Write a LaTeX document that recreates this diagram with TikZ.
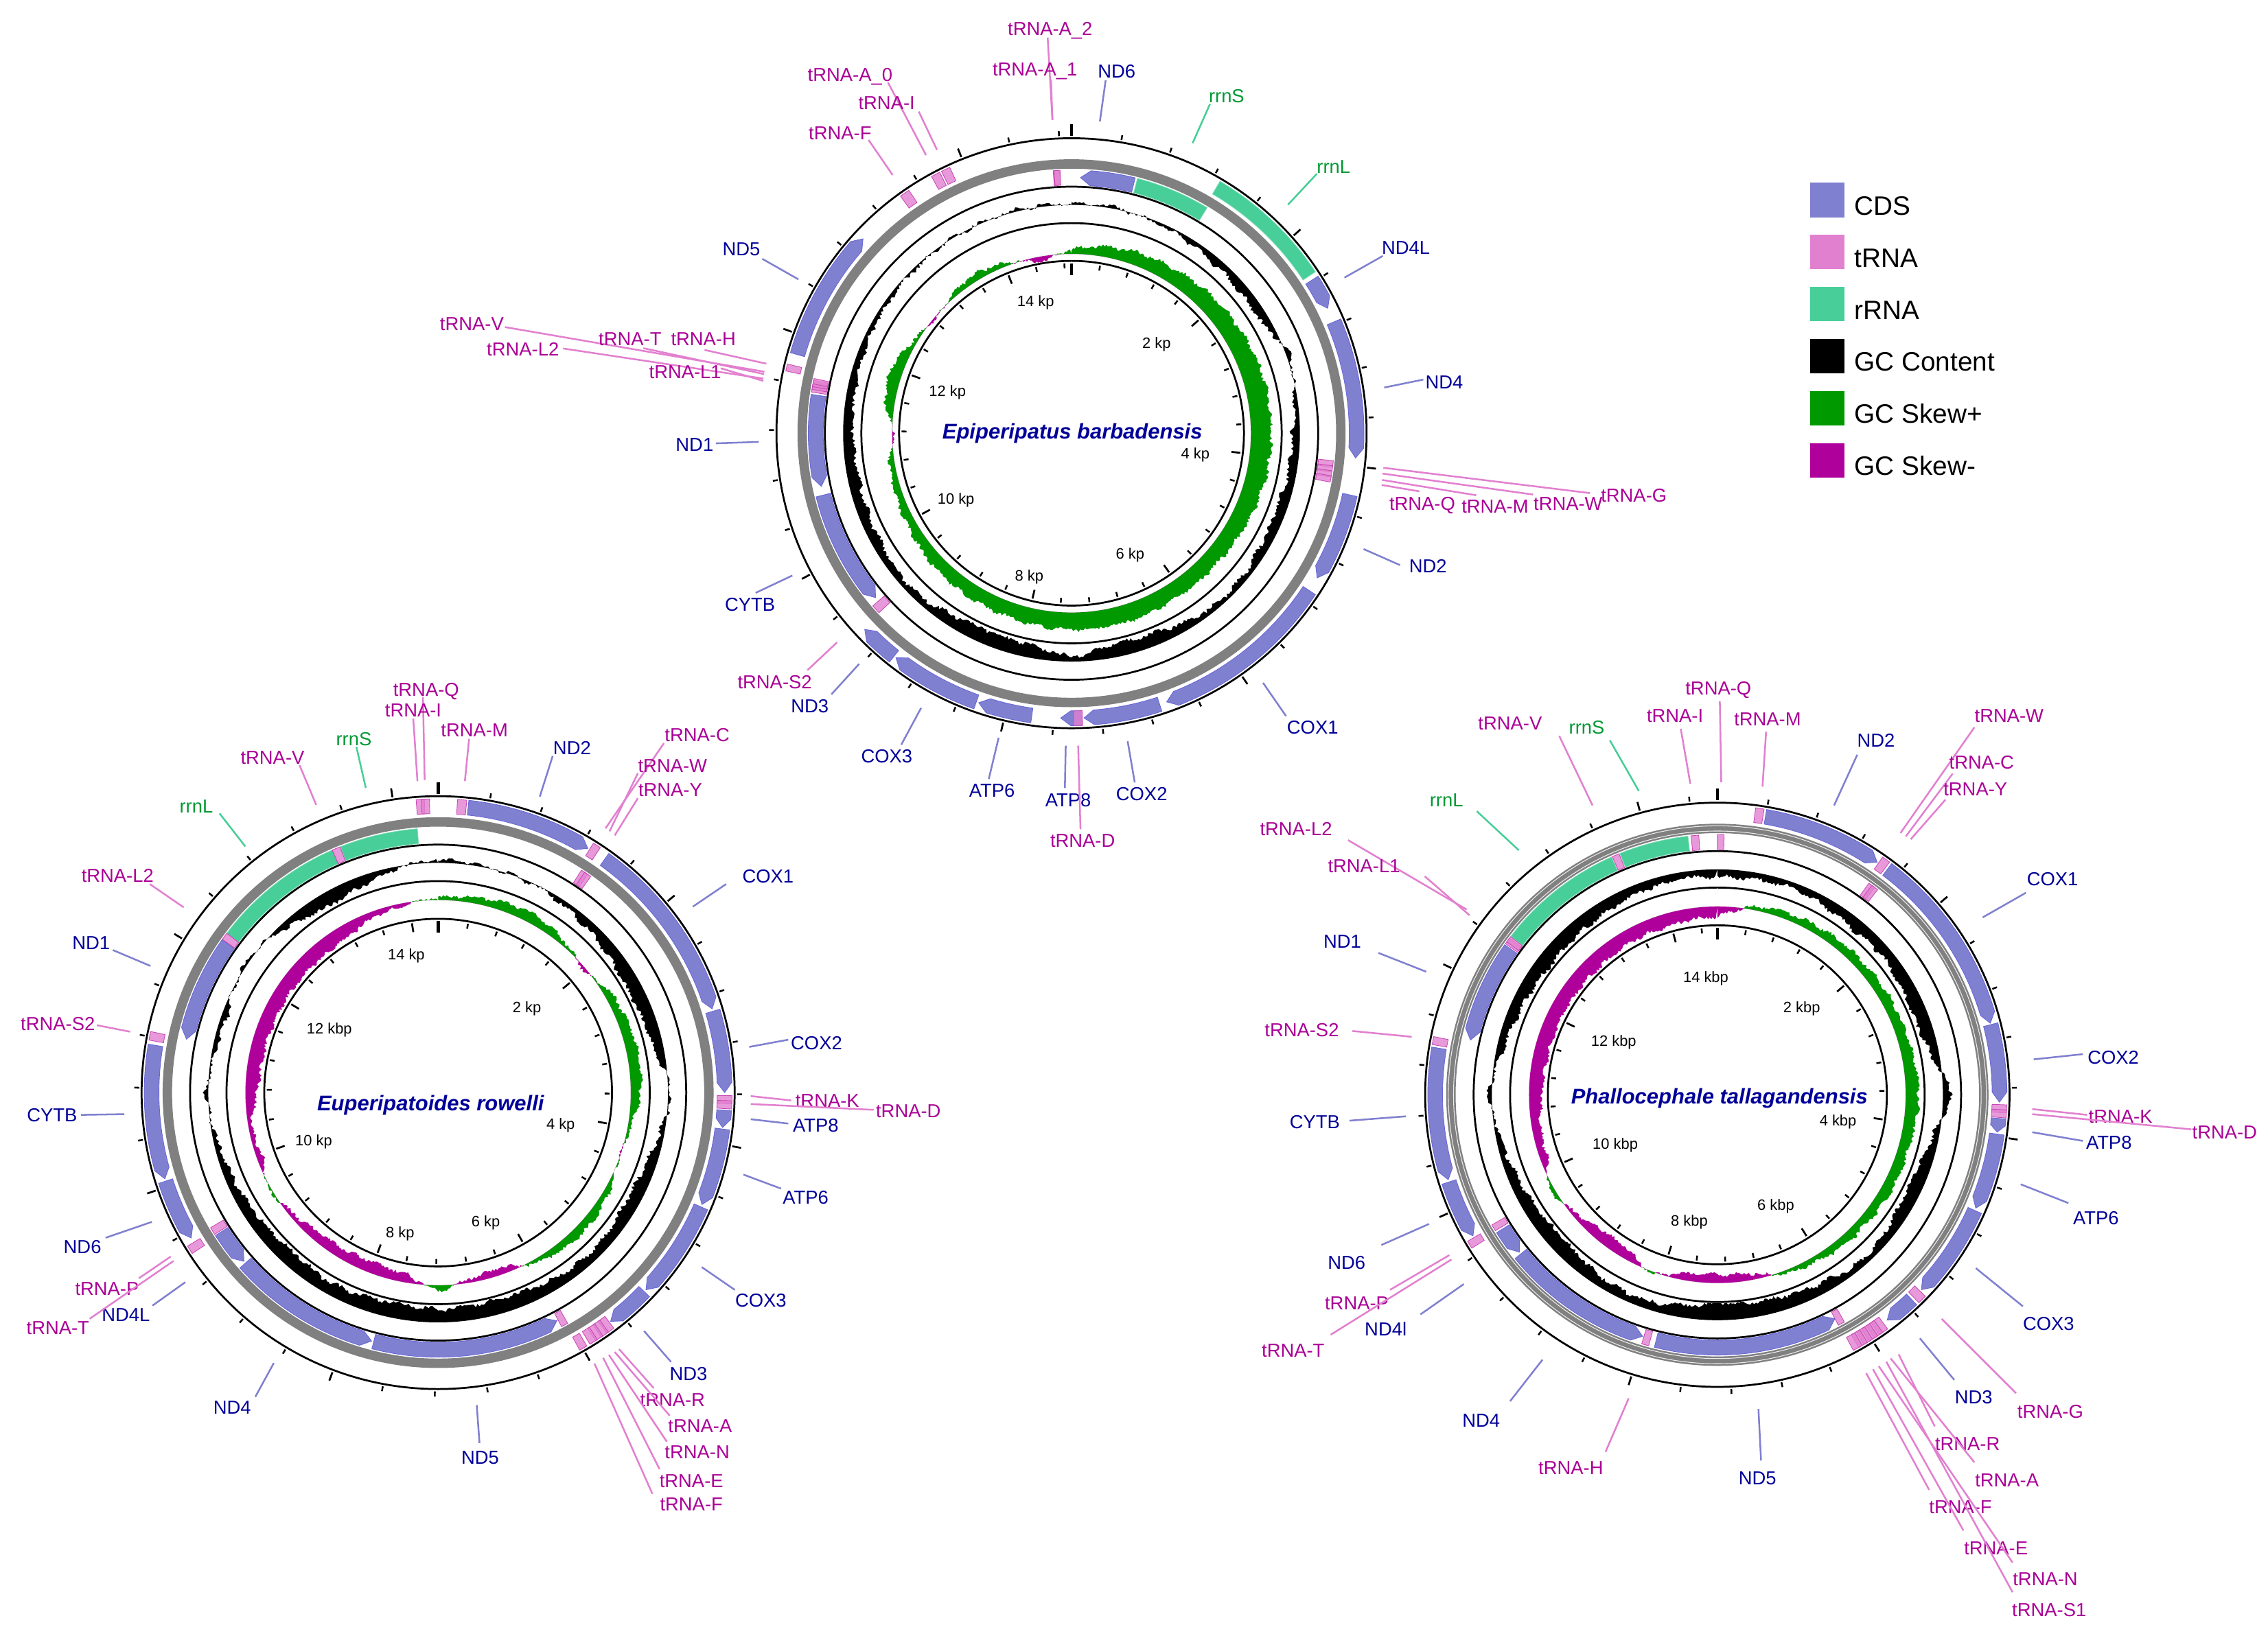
\documentclass[tikz,border=0pt]{standalone}
\usepackage{fontspec}
\setmainfont{Liberation Sans}
\definecolor{cdsc}{RGB}{128,128,208}
\definecolor{trnac}{RGB}{226,128,208}
\definecolor{rrnac}{RGB}{72,206,152}
\definecolor{skp}{RGB}{0,153,0}
\definecolor{skm}{RGB}{176,0,155}
\definecolor{labblue}{RGB}{0,0,153}
\definecolor{labmag}{RGB}{170,0,150}
\definecolor{labgrn}{RGB}{0,153,51}
\definecolor{ringgray}{RGB}{128,128,128}
\tikzset{
 cdsb/.style={fill=cdsc, draw=cdsc!80!blue, line width=0.4pt},
 trnab/.style={fill=trnac, fill opacity=0.8, draw=labmag!45!trnac, line width=0.4pt},
 rrnab/.style={fill=rrnac, draw=rrnac!70!white, line width=0.4pt},
 cdsl/.style={draw=cdsc, line width=1.2pt},
 trnal/.style={draw=trnac, line width=1.2pt},
 rrnal/.style={draw=rrnac, line width=1.2pt},
 lab/.style={font=\fontsize{13pt}{15pt}\selectfont, inner sep=0pt, text height=9.3pt, text depth=0pt},
 lc/.style={lab, text=labblue},
 lt/.style={lab, text=labmag},
 lr/.style={lab, text=labgrn},
 kpl/.style={font=\fontsize{10.4pt}{12pt}\selectfont, inner sep=0pt, text height=7.5pt, text depth=0pt},
 spn/.style={font=\fontsize{14.7pt}{17pt}\selectfont\bfseries\itshape, text=labblue, inner sep=0pt, text height=10.6pt, text depth=0pt},
 leg/.style={font=\fontsize{18.4pt}{21pt}\selectfont, inner sep=0pt, anchor=base west},
 legsq/.style={minimum width=23.5pt, minimum height=23.9pt, inner sep=0pt, draw=none}
}
% ring radii: #1 outer radius, #2 skew baseline offset
\newcommand\ringset[2]{%
 \pgfmathsetmacro\rR{#1}%
 \pgfmathsetmacro\rOa{#1-12}\pgfmathsetmacro\rOb{#1-1.8}%
 \pgfmathsetmacro\rG{#1-17.8}%
 \pgfmathsetmacro\rIa{#1-32.3}\pgfmathsetmacro\rIb{#1-22}%
 \pgfmathsetmacro\rCa{#1-33.5}\pgfmathsetmacro\rCam{#1-34.3}%
 \pgfmathsetmacro\rGC{#1-46.1}%
 \pgfmathsetmacro\rCb{#1-58.7}\pgfmathsetmacro\rCbp{#1-57.9}\pgfmathsetmacro\rCbm{#1-59.5}%
 \pgfmathsetmacro\rSK{#1-#2}%
 \pgfmathsetmacro\rCc{#1-84.8}\pgfmathsetmacro\rCcp{#1-84}}
% feature block: rin rout th1 th2 style arrow(0 none,1 cw,2 ccw)
\newcommand\blk[6]{%
 \pgfmathsetmacro\bkA{90-(#3)}%
 \pgfmathsetmacro\bkB{90-(#4)}%
 \pgfmathsetmacro\bkM{((#1)+(#2))/2}%
 \pgfmathsetmacro\bkD{min(7/\bkM*57.2958,abs((#4)-(#3))*0.5)}%
 \ifcase#6\relax
  \path[#5] (\bkA:#2) arc[start angle=\bkA,end angle=\bkB,radius=#2] -- (\bkB:#1) arc[start angle=\bkB,end angle=\bkA,radius=#1] -- cycle;
 \or
  \pgfmathsetmacro\bkC{\bkB+\bkD}%
  \path[#5] (\bkA:#2) arc[start angle=\bkA,end angle=\bkC,radius=#2] -- (\bkB:\bkM) -- (\bkC:#1) arc[start angle=\bkC,end angle=\bkA,radius=#1] -- cycle;
 \or
  \pgfmathsetmacro\bkC{\bkA-\bkD}%
  \path[#5] (\bkC:#2) arc[start angle=\bkC,end angle=\bkB,radius=#2] -- (\bkB:#1) arc[start angle=\bkB,end angle=\bkC,radius=#1] -- (\bkA:\bkM) -- cycle;
 \fi}
\newcommand\ob[4]{\blk{\rOa}{\rOb}{#1}{#2}{#3}{#4}}
\newcommand\ib[4]{\blk{\rIa}{\rIb}{#1}{#2}{#3}{#4}}
\newcommand\rings{%
 \draw[ringgray,line width=6.5pt] (0,0) circle (\rG);
 \draw[line width=1.3pt] (0,0) circle (\rR) (0,0) circle (\rCa) (0,0) circle (\rCb) (0,0) circle (\rCc);}
% GC plot: style baseline array noise seed clipin clipout
\newcommand\gcfill[7]{%
 \begin{scope}[even odd rule]
 \clip (0,0) circle (#6) (0,0) circle (#7);
 \pgfmathsetseed{#5}%
 \fill[#1] (90:#2) foreach \t in {0,0.5,...,359.5} { \pgfextra{\pgfmathtruncatemacro\ii{\t/10}\pgfmathsetmacro\vv{#3[\ii]+(#3[\ii+1]-#3[\ii])*(\t/10-\ii)+#4*rand+0.7*#4*sin(43*\t)}\global\let\gvv\vv} -- ({90-\t}:{#2+\gvv}) } -- cycle (0,0) circle (#2);
 \end{scope}}
% ticks
\newcommand\ticks[1]{%
 \foreach \bp in {0,400,...,14800}{%
  \ifnum\bp<#1\relax
   \pgfmathsetmacro\tph{90-\bp/#1*360}%
   \pgfmathtruncatemacro\tmj{mod(\bp,2000)}%
   \ifnum\bp=0 \def\tl{8}\def\tw{2.2pt}\else
    \ifnum\tmj=0 \def\tl{6.2}\def\tw{1.3pt}\else \def\tl{3.4}\def\tw{1.2pt}\fi\fi
   \draw[line width=\tw] (\tph:{\rR+1.7}) -- (\tph:{\rR+1.7+\tl});
   \draw[line width=\tw] (\tph:{\rCc-1.7}) -- (\tph:{\rCc-1.7-\tl});
  \fi}}
% label: name nodestyle linestyle text textpos linestart lineend
\newcommand\lbl[7]{%
 \node[#2] (#1) at (#5) {#4};
 \coordinate (#1-a) at (#6);
 \coordinate (#1-b) at (#7);
 \draw[#3] (#1-a) -- (#1-b);}
% data arrays (10 degree steps, 0..360)
\def\gcA{{1,1,-1,-3,-5,-6,-6,3,-2,-5,-6,-7,-6,-4,-3,-6,-9,-9,-3,-9,-10,-9,-5,-4,-6,-7,-8,-7,-6,-4,-3,-2,-1,0,1,1,1}}
\def\skA{{3,7,9,10,11,12,13,14,14,14,14,13,12,11,11,11,12,12,12,11,10,10,9,8,6,5,4,-2,7,9,3,-2,3,5,2,-4,3}}
\def\gcB{{2,1,0,-2,-5,-8,-10,-9,-6,3,-3,-8,-9,-7,-6,-8,-10,-10,-9,-11,-9,-8,-10,-9,-7,-5,-2,2,-3,-4,1,1,-6,-10,-7,-1,2}}
\def\skB{{2,4,6,7,3,-2,5,7,8,7,2,-1,4,6,6,3,-5,-3,4,-6,-8,-7,-6,-3,2,-4,-2,-8,-10,-10,-10,-10,-10,-9,-4,-2,2}}
\def\gcC{{-5,-5,-4,-6,-8,-7,-9,-10,-6,7,-4,-9,-9,-6,-4,-7,-9,-10,-12,-8,-5,-6,-9,-10,-8,-6,-3,3,-4,-7,-9,-10,-9,-8,-6,-5,-5}}
\def\skC{{-7,2,5,5,6,6,7,7,8,9,8,7,7,6,6,4,2,-5,-6,-5,2,-7,-8,-3,4,-5,-6,-9,-10,-10,-10,-10,-10,-9,-9,-8,-7}}
\begin{document}
\begin{tikzpicture}[x=1pt,y=-1pt]
\useasboundingbox (0,0) rectangle (1568,1131);
\fill[white] (0,0) rectangle (1568,1131);

%================ circle 1 ================
\begin{scope}[shift={(740.8pt,-299.6pt)},x=1pt,y=1pt]
\ringset{204}{80}
\gcfill{black}{\rGC}{\gcA}{1.3}{11}{\rCbp}{\rCam}
\gcfill{skp}{\rSK}{\skA}{1.1}{12}{\rSK}{\rCbm}
\gcfill{skm}{\rSK}{\skA}{1.1}{12}{\rCcp}{\rSK}
\rings
\ib{2}{14}{cdsb}{2}
\ob{57.5}{64}{cdsb}{1}
\ob{67}{95}{cdsb}{1}
\ob{102.5}{120.5}{cdsb}{1}
\ob{123.5}{160.5}{cdsb}{1}
\ob{162}{177.5}{cdsb}{1}
\ob{178}{182.2}{cdsb}{1}
\ob{188}{199}{cdsb}{1}
\ob{199.5}{218}{cdsb}{1}
\ob{218.5}{226.5}{cdsb}{1}
\ib{230}{256}{cdsb}{2}
\ib{258}{278.5}{cdsb}{2}
\ob{286}{313}{cdsb}{1}
\ib{14.5}{31}{rrnab}{0}
\ob{30.5}{56.5}{rrnab}{0}
\ib{356}{357.4}{trnab}{0}\ib{356.2}{357.5}{trnab}{0}
\ib{96}{97.4}{trnab}{0}\ib{97.1}{98.5}{trnab}{0}\ib{98.2}{99.6}{trnab}{0}\ib{99.3}{100.7}{trnab}{0}
\ob{177.8}{179.6}{trnab}{0}
\ib{227}{229}{trnab}{0}
\ib{279}{280.4}{trnab}{0}\ib{279.6}{281}{trnab}{0}\ib{280.2}{281.6}{trnab}{0}\ib{280.8}{282}{trnab}{0}
\ob{282.3}{283.7}{trnab}{0}
\ob{324.2}{326.2}{trnab}{0}
\ob{331.4}{333.2}{trnab}{0}
\ob{333.6}{335.4}{trnab}{0}
\ticks{14900}
\end{scope}

%================ circle 2 ================
\begin{scope}[shift={(302.9pt,-755.6pt)},x=1pt,y=1pt]
\ringset{205}{71.8}
\gcfill{black}{\rGC}{\gcB}{1.3}{21}{\rCbp}{\rCam}
\gcfill{skp}{\rSK}{\skB}{1.1}{22}{\rSK}{\rCbm}
\gcfill{skm}{\rSK}{\skB}{1.1}{22}{\rCcp}{\rSK}
\rings
\ob{6}{31.5}{cdsb}{1}
\ob{35.5}{73}{cdsb}{1}
\ob{73.5}{90}{cdsb}{1}
\ob{93.5}{97}{cdsb}{1}
\ob{97.3}{113}{cdsb}{1}
\ob{113.5}{133.5}{cdsb}{1}
\ob{134}{143}{cdsb}{1}
\ib{152.5}{194.5}{cdsb}{2}
\ib{195}{228.5}{cdsb}{2}
\ib{229}{237.3}{cdsb}{2}
\ob{239.5}{252}{cdsb}{2}
\ob{252.5}{279.5}{cdsb}{2}
\ib{282}{305.3}{cdsb}{2}
\ib{307}{336.5}{rrnab}{0}
\ib{338.3}{355.5}{rrnab}{0}
\ib{336.4}{338.2}{trnab}{0}
\ib{305.4}{307}{trnab}{0}
\ob{280.3}{282}{trnab}{0}
\ob{236.8}{238.5}{trnab}{0}
\ib{237.6}{239.3}{trnab}{0}
\ob{355.7}{357.3}{trnab}{0}\ob{356.7}{358.3}{trnab}{0}
\ob{3.8}{5.6}{trnab}{0}
\ob{31.9}{33.5}{trnab}{0}
\ib{32.8}{34.4}{trnab}{0}\ib{33.6}{35.2}{trnab}{0}
\ob{90.6}{92.2}{trnab}{0}\ob{91.6}{93.2}{trnab}{0}
\ob{143.3}{145}{trnab}{0}\ob{144.6}{146.3}{trnab}{0}\ob{145.9}{147.6}{trnab}{0}\ob{147.2}{148.9}{trnab}{0}
\ob{149.6}{151.2}{trnab}{0}
\ib{150.7}{152.2}{trnab}{0}
\ticks{14350}
\end{scope}

%================ circle 3 ================
\begin{scope}[shift={(1187.3pt,-757.1pt)},x=1pt,y=1pt]
\ringset{202}{71.8}
\gcfill{black}{\rGC}{\gcC}{1.3}{31}{\rCbp}{\rCam}
\gcfill{skp}{\rSK}{\skC}{1.1}{32}{\rSK}{\rCbm}
\gcfill{skm}{\rSK}{\skC}{1.1}{32}{\rCcp}{\rSK}
\rings
\draw[white!85!gray,line width=0.5pt] (0,0) circle ({\rG+1.8}) (0,0) circle ({\rG-1.8});
\ob{9.8}{34.5}{cdsb}{1}
\ob{37}{75.3}{cdsb}{1}
\ob{75.6}{91.5}{cdsb}{1}
\ob{94.8}{97.6}{cdsb}{1}
\ob{98}{113.7}{cdsb}{1}
\ob{114.2}{133.7}{cdsb}{1}
\ob{136.5}{143}{cdsb}{1}
\ib{152.3}{194}{cdsb}{2}
\ib{197.2}{231}{cdsb}{2}
\ib{231.5}{238}{cdsb}{2}
\ob{240}{252}{cdsb}{2}
\ob{252.5}{279.5}{cdsb}{2}
\ib{282.5}{305.2}{cdsb}{2}
\ib{307.5}{336}{rrnab}{0}
\ib{338}{353.5}{rrnab}{0}
\ob{7.6}{9.3}{trnab}{0}
\ib{0}{1.5}{trnab}{0}
\ib{354.2}{355.9}{trnab}{0}
\ib{336.2}{337.8}{trnab}{0}
\ib{305.5}{307}{trnab}{0}\ib{306}{307.4}{trnab}{0}
\ob{280}{281.6}{trnab}{0}
\ob{238}{239.6}{trnab}{0}
\ib{238.5}{240}{trnab}{0}
\ib{195.3}{196.9}{trnab}{0}
\ob{34.8}{36.5}{trnab}{0}
\ib{35.6}{37.2}{trnab}{0}\ib{36.4}{38}{trnab}{0}
\ob{92}{93.6}{trnab}{0}\ob{93}{94.6}{trnab}{0}
\ob{134.1}{135.9}{trnab}{0}
\ob{144}{146}{trnab}{0}\ob{145.2}{147.2}{trnab}{0}\ob{146.4}{148.4}{trnab}{0}\ob{147.6}{149.6}{trnab}{0}\ob{148.8}{150.8}{trnab}{0}\ob{150}{152}{trnab}{0}
\ib{150.8}{152.3}{trnab}{0}
\ticks{14620}
\end{scope}

%================ species names & scale labels ================
\node[spn] (n1) at (741.4,298) {Epiperipatus barbadensis};
\node[spn] (n2) at (297.7,763) {Euperipatoides rowelli};
\node[spn] (n3) at (1188.7,758) {Phallocephale tallagandensis};

\node[kpl] (k1a) at (799.6,237.1) {2 kp};
\node[kpl] (k1b) at (826.4,313.7) {4 kp};
\node[kpl] (k1c) at (781.3,382.7) {6 kp};
\node[kpl] (k1d) at (711.5,398.1) {8 kp};
\node[kpl] (k1e) at (660.9,344.7) {10 kp};
\node[kpl] (k1f) at (655,270.4) {12 kp};
\node[kpl] (k1g) at (716,208.2) {14 kp};

\node[kpl] (k2a) at (364.3,696.5) {2 kp};
\node[kpl] (k2b) at (387.6,777.3) {4 kp};
\node[kpl] (k2c) at (335.8,844.4) {6 kp};
\node[kpl] (k2d) at (276.6,852.1) {8 kp};
\node[kpl] (k2e) at (216.9,788.4) {10 kp};
\node[kpl] (k2f) at (227.7,711.3) {12 kbp};
\node[kpl] (k2g) at (280.9,660.1) {14 kp};

\node[kpl] (k3a) at (1245.6,696.5) {2 kbp};
\node[kpl] (k3b) at (1270.7,774.7) {4 kbp};
\node[kpl] (k3c) at (1227.7,833.1) {6 kbp};
\node[kpl] (k3d) at (1167.9,844.2) {8 kbp};
\node[kpl] (k3e) at (1116.7,791) {10 kbp};
\node[kpl] (k3f) at (1115.6,719.8) {12 kbp};
\node[kpl] (k3g) at (1179.3,675.7) {14 kbp};

%================ labels circle 1 ================
\lbl{aA2}{lt}{trnal}{tRNA-A\_2}{726,20}{727.6,83}{724.3,26}
\lbl{aA1}{lt}{trnal}{tRNA-A\_1}{715.5,48}{727.6,83}{726.6,55}
\lbl{aND6}{lc}{cdsl}{ND6}{772,49}{760.4,84}{764.4,55.5}
\lbl{arrnS}{lr}{rrnal}{rrnS}{848,66.5}{824.5,99}{836.5,72}
\lbl{arrnL}{lr}{rrnal}{rrnL}{922,115}{890.4,141.6}{910.4,120.2}
\lbl{aA0}{lt}{trnal}{tRNA-A\_0}{587.7,51.4}{640.2,107.3}{613.9,57}
\lbl{aI}{lt}{trnal}{tRNA-I}{613,71}{647.8,103.6}{635.2,77.2}
\lbl{aF}{lt}{trnal}{tRNA-F}{580.8,91.7}{617.1,121}{600.5,96.8}
\lbl{aND5}{lc}{cdsl}{ND5}{512.5,172}{552,193.2}{527,179}
\lbl{aV}{lt}{trnal}{tRNA-V}{326.2,224}{528.5,257.1}{349.1,226.2}
\lbl{aL2}{lt}{trnal}{tRNA-L2}{361.5,241.6}{527.7,261.8}{389.3,241}
\lbl{aT}{lt}{trnal}{tRNA-T}{435.6,234.1}{528.2,258.7}{444.8,240.8}
\lbl{aH}{lt}{trnal}{tRNA-H}{486.3,234.1}{529.8,251.5}{487.1,242}
\lbl{aL1}{lt}{trnal}{tRNA-L1}{473.7,257}{527.7,263.4}{498.3,254.7}
\lbl{aND1}{lc}{cdsl}{ND1}{480.2,307.3}{524.6,305.6}{494.9,306.6}
\lbl{aCYTB}{lc}{cdsl}{CYTB}{518.5,418}{547.8,398}{522.4,410}
\lbl{aS2}{lt}{trnal}{tRNA-S2}{535.6,471.4}{578.7,444.2}{558.2,463.5}
\lbl{aND3}{lc}{cdsl}{ND3}{559.9,488}{594,459.1}{574.8,480.2}
\lbl{aCOX3}{lc}{cdsl}{COX3}{613.1,522.9}{636.8,489.6}{623.1,515}
\lbl{aATP6}{lc}{cdsl}{ATP6}{685.8,546.6}{690.4,510.2}{683.6,538.7}
\lbl{aATP8}{lc}{cdsl}{ATP8}{738.5,553}{736.8,515.7}{736.2,545}
\lbl{aD}{lt}{trnal}{tRNA-D}{748.5,581.4}{745.4,515.7}{747,573.5}
\lbl{aCOX2}{lc}{cdsl}{COX2}{789.3,549}{779.6,512.6}{784.5,541.1}
\lbl{aCOX1}{lc}{cdsl}{COX1}{907.5,503}{873.2,472.2}{889.1,495.2}
\lbl{aND2}{lc}{cdsl}{ND2}{987.2,391.5}{942.7,379.7}{967.9,390.8}
\lbl{aQ}{lt}{trnal}{tRNA-Q}{983.3,348}{955.2,335.4}{981.3,339.8}
\lbl{aM}{lt}{trnal}{tRNA-M}{1033.6,350}{955.5,331.9}{1020.6,342.5}
\lbl{aW}{lt}{trnal}{tRNA-W}{1084.1,348}{955.8,327.5}{1059.9,342}
\lbl{aG}{lt}{trnal}{tRNA-G}{1129.6,342.5}{956.4,323.5}{1099.2,341}
\lbl{aND4}{lc}{cdsl}{ND4}{998.5,264}{957,268}{984,262.5}
\lbl{aND4L}{lc}{cdsl}{ND4L}{972,171}{929.5,192}{956,177}

%================ labels circle 2 ================
\lbl{bQ}{lt}{trnal}{tRNA-Q}{294.6,476.6}{293.6,539.4}{292.4,482}
\lbl{bI}{lt}{trnal}{tRNA-I}{285.7,491}{288.6,540.2}{285.7,496.8}
\lbl{bM}{lt}{trnal}{tRNA-M}{328,505}{321.4,540.2}{324.3,511}
\lbl{brrnS}{lr}{rrnal}{rrnS}{244.6,511}{252.9,544.9}{246.4,516.5}
\lbl{bV}{lt}{trnal}{tRNA-V}{188.4,523.7}{218.6,556.6}{207.1,529.2}
\lbl{brrnL}{lr}{rrnal}{rrnL}{135.7,557.3}{169.6,585.4}{151.8,562.5}
\lbl{bL2}{lt}{trnal}{tRNA-L2}{81.3,605.5}{127,627.5}{103.6,611.4}
\lbl{bND2}{lc}{cdsl}{ND2}{395.5,517}{373.2,550.9}{382.1,522.8}
\lbl{bC}{lt}{trnal}{tRNA-C}{482,508}{418.6,572.9}{459,514}
\lbl{bW}{lt}{trnal}{tRNA-W}{465,529.5}{421.4,574.9}{441,534.7}
\lbl{bY}{lt}{trnal}{tRNA-Y}{463.4,546}{425,577.7}{441,552}
\lbl{bCOX1}{lc}{cdsl}{COX1}{531,606}{479,627}{502,611.4}
\lbl{bCOX2}{lc}{cdsl}{COX2}{564.5,721}{518,724}{545,719}
\lbl{bK}{lt}{trnal}{tRNA-K}{572,761}{519,758}{547,761}
\lbl{bD}{lt}{trnal}{tRNA-D}{628,768}{519,763.5}{604,767.5}
\lbl{bATP8}{lc}{cdsl}{ATP8}{564,778}{519,774}{545,777}
\lbl{bATP6}{lc}{cdsl}{ATP6}{557,828}{514,812.3}{540,822}
\lbl{bCOX3}{lc}{cdsl}{COX3}{526,899}{485.2,876.3}{508,892}
\lbl{bND3}{lc}{cdsl}{ND3}{476,950}{445.3,920.5}{463.9,941.8}
\lbl{bR}{lt}{trnal}{tRNA-R}{465,968}{428,933}{452,960}
\lbl{bA}{lt}{trnal}{tRNA-A}{484,986}{425,935}{463,979}
\lbl{bN}{lt}{trnal}{tRNA-N}{482,1004}{421,937}{461,997}
\lbl{bE}{lt}{trnal}{tRNA-E}{478,1024}{417,939}{456,1016}
\lbl{bF}{lt}{trnal}{tRNA-F}{478,1040}{411,943}{451,1033}
\lbl{bND5}{lc}{cdsl}{ND5}{332,1008}{329.6,971.7}{331.5,998}
\lbl{bND4}{lc}{cdsl}{ND4}{160.5,973}{189.3,942.6}{176.5,966}
\lbl{bND4L}{lc}{cdsl}{ND4L}{87,909}{128.1,886.7}{105.4,902.9}
\lbl{bP}{lt}{trnal}{tRNA-P}{74,891}{118,869}{96,884}
\lbl{bT}{lt}{trnal}{tRNA-T}{40,918}{120,872}{62,912}
\lbl{bND6}{lc}{cdsl}{ND6}{57,862}{105,845}{73,856}
\lbl{bCYTB}{lc}{cdsl}{CYTB}{36,771}{86,770.5}{56,771}
\lbl{bS2}{lt}{trnal}{tRNA-S2}{40,708}{90,713.5}{67,709}
\lbl{bND1}{lc}{cdsl}{ND1}{63,652}{104,668}{78,657}

%================ labels circle 3 ================
\lbl{cQ}{lt}{trnal}{tRNA-Q}{1188,476}{1190,541}{1189,485}
\lbl{cI}{lt}{trnal}{tRNA-I}{1158,495}{1168.6,542}{1162,504}
\lbl{cM}{lt}{trnal}{tRNA-M}{1222,497}{1218.5,544}{1221,506}
\lbl{crrnS}{lr}{rrnal}{rrnS}{1097,503}{1133,547}{1113,512}
\lbl{cV}{lt}{trnal}{tRNA-V}{1044,500}{1101,557}{1078,509}
\lbl{crrnL}{lr}{rrnal}{rrnL}{1000,553}{1050,588}{1021,561}
\lbl{cL2}{lt}{trnal}{tRNA-L2}{896,573}{1014,629}{932,581}
\lbl{cL1}{lt}{trnal}{tRNA-L1}{943,599}{1016,633}{985,606}
\lbl{cND1}{lc}{cdsl}{ND1}{928,651}{986,672}{953,659}
\lbl{cS2}{lt}{trnal}{tRNA-S2}{900,712}{976,717}{935,713}
\lbl{cCYTB}{lc}{cdsl}{CYTB}{909,776}{972,772}{933,775}
\lbl{cND6}{lc}{cdsl}{ND6}{931,873}{988,846.4}{955,861}
\lbl{cP}{lt}{trnal}{tRNA-P}{938,901}{1002,868}{961,892}
\lbl{cT}{lt}{trnal}{tRNA-T}{894,934}{1003.5,871}{920,923}
\lbl{cND4l}{lc}{cdsl}{ND4l}{958,919}{1012,888}{982,909}
\lbl{cND4}{lc}{cdsl}{ND4}{1024,982}{1066.4,940.3}{1044,969}
\lbl{cH}{lt}{trnal}{tRNA-H}{1086,1015}{1126,967}{1110,1004}
\lbl{cND5}{lc}{cdsl}{ND5}{1215,1022}{1215.7,974.4}{1217.5,1010}
\lbl{cND3}{lc}{cdsl}{ND3}{1364.5,966.2}{1327.3,925.5}{1351.1,954.3}
\lbl{cG}{lt}{trnal}{tRNA-G}{1417.5,976}{1342.4,912.1}{1393.8,963.5}
\lbl{cCOX3}{lc}{cdsl}{COX3}{1416.3,915.2}{1366,877}{1398.5,903.4}
\lbl{cR}{lt}{trnal}{tRNA-R}{1360.2,998.3}{1312.6,936.6}{1337.6,986.4}
\lbl{cA}{lt}{trnal}{tRNA-A}{1387.5,1023.6}{1307.1,939.4}{1365,1011.3}
\lbl{cF}{lt}{trnal}{tRNA-F}{1355.4,1042.2}{1290.2,949.6}{1333.7,1030.3}
\lbl{cE}{lt}{trnal}{tRNA-E}{1379.9,1070.3}{1294.9,946.9}{1357.4,1058.4}
\lbl{cN}{lt}{trnal}{tRNA-N}{1414,1092}{1298.9,944.8}{1391.4,1080.6}
\lbl{cS1}{lt}{trnal}{tRNA-S1}{1416.7,1113}{1304.1,941.7}{1391.4,1101.1}
\lbl{cATP6}{lc}{cdsl}{ATP6}{1449,842}{1397,819}{1430,832}
\lbl{cATP8}{lc}{cdsl}{ATP8}{1458,790}{1405,783}{1440,789}
\lbl{cK}{lt}{trnal}{tRNA-K}{1466,772}{1405,767}{1443,771}
\lbl{cD}{lt}{trnal}{tRNA-D}{1538,783}{1405,770.5}{1515,781}
\lbl{cCOX2}{lc}{cdsl}{COX2}{1461,731}{1406,732.6}{1440,729}
\lbl{cCOX1}{lc}{cdsl}{COX1}{1419,608}{1370.8,634.4}{1400.6,617.4}
\lbl{cND2}{lc}{cdsl}{ND2}{1297,512}{1268,557}{1284,522}
\lbl{cW}{lt}{trnal}{tRNA-W}{1389,495}{1313.9,576.1}{1365,503}
\lbl{cC}{lt}{trnal}{tRNA-C}{1370,527}{1317.6,578.4}{1350,535}
\lbl{cY}{lt}{trnal}{tRNA-Y}{1365.7,545.5}{1321,580.4}{1345,553}

%================ legend ================
\node[legsq,fill=cdsc] (sq1) at (1263.2,138.3) {};
\node[legsq,fill=trnac] (sq2) at (1263.2,174.3) {};
\node[legsq,fill=rrnac] (sq3) at (1263.2,210.3) {};
\node[legsq,fill=black] (sq4) at (1263.2,246.3) {};
\node[legsq,fill=skp] (sq5) at (1263.2,282.3) {};
\node[legsq,fill=skm] (sq6) at (1263.2,318.3) {};
\node[leg] (lg1) at (1281.8,148.7) {CDS};
\node[leg] (lg2) at (1281.8,184.7) {tRNA};
\node[leg] (lg3) at (1281.8,220.7) {rRNA};
\node[leg] (lg4) at (1281.8,256.7) {GC Content};
\node[leg] (lg5) at (1281.8,292.7) {GC Skew+};
\node[leg] (lg6) at (1281.8,328.7) {GC Skew-};
\end{tikzpicture}
\end{document}
